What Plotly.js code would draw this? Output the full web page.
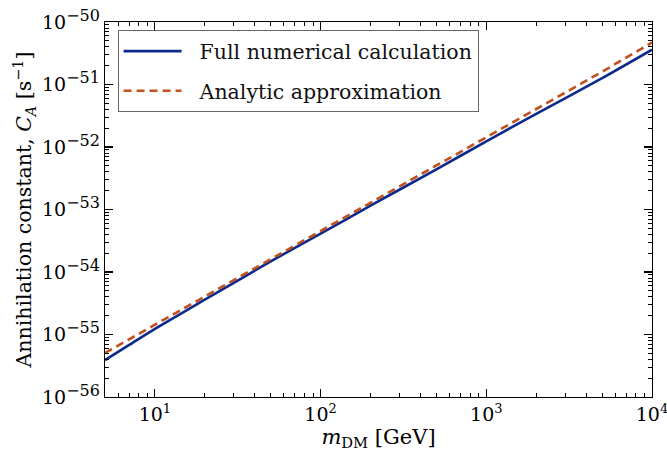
<!DOCTYPE html>
<html>
<head>
<meta charset="utf-8">
<script src="https://cdn.plot.ly/plotly-3.0.1.min.js"></script>
<style>
  html, body { margin: 0; padding: 0; background: #fff; }
  #chart { width: 667px; height: 455px; }
</style>
</head>
<body>
<div id="chart"></div>
<script>
// Dark-matter mass grid [GeV]
const massGeV = [5, 7, 10, 20, 50, 100, 200, 500, 1000, 2000, 5000, 10000];

// Annihilation constant C_A [s^-1]
const fullNumerical = [3.9e-56, 6.8e-56, 1.23e-55, 3.6e-55, 1.48e-54, 4.1e-54,
                       1.15e-53, 4.4e-53, 1.23e-52, 3.4e-52, 1.26e-51, 3.6e-51];
const analyticApprox = [5.06e-56, 8.4e-56, 1.43e-55, 4.04e-55, 1.6e-54, 4.52e-54,
                        1.28e-53, 5.06e-53, 1.43e-52, 4.04e-52, 1.6e-51, 4.7e-51];

const seriesNames = ['Full numerical calculation', 'Analytic approximation'];

// Axis tick labels (decade exponents)
const xTickVals = [10, 100, 1000, 10000];
const xTickExp = ['1', '2', '3', '4'];
const yTickVals = [1e-56, 1e-55, 1e-54, 1e-53, 1e-52, 1e-51, 1e-50];
const yTickExp = ['\u221256', '\u221255', '\u221254', '\u221253', '\u221252', '\u221251', '\u221250'];

const powerLabel = px => e => '10<sup><span style="font-size:' + px + 'px">' + e + '</span></sup>';

// Minor ticks at 2..9 within each decade
function minorTicks(expLo, expHi) {
  const v = [];
  for (let e = expLo; e <= expHi; e++) {
    for (let k = 2; k <= 9; k++) v.push(k * Math.pow(10, e));
  }
  return v;
}

const serif = "DejaVu Serif";
const pad = '\u00a0\u00a0';

const traces = [
  {
    x: massGeV, y: fullNumerical, name: pad + seriesNames[0], legendgroup: 'a',
    type: 'scatter', mode: 'lines',
    line: { color: '#0b2a8c', width: 2.6, shape: 'spline', smoothing: 0.6 }
  },
  {
    x: massGeV, y: analyticApprox, name: pad + seriesNames[1], legendgroup: 'b',
    type: 'scatter', mode: 'lines',
    line: { color: '#c2501e', width: 2.6, dash: '8px,5px' }
  }
];

const axisCommon = {
  type: 'log',
  showline: true, linecolor: '#000', linewidth: 1.3,
  mirror: 'allticks',
  ticks: 'inside', ticklen: 8, tickwidth: 1.1, tickcolor: '#000',
  showgrid: false, zeroline: false,
  tickmode: 'array',
  ticklabeloverflow: 'allow',
  tickfont: { family: serif, size: 19, color: '#000' }
};

const layout = {
  width: 667, height: 455,
  margin: { l: 105, r: 15, t: 22, b: 58 },
  paper_bgcolor: '#fff', plot_bgcolor: '#fff',
  showlegend: true,
  legend: {
    x: 0.023, y: 0.978, xanchor: 'left', yanchor: 'top',
    bgcolor: '#fff', bordercolor: '#666', borderwidth: 1,
    font: { family: serif, size: 20.5, color: '#111' },
    itemwidth: 58,
    tracegroupgap: 10
  },
  xaxis: Object.assign({}, axisCommon, {
    range: [Math.log10(5), 4],
    tickvals: xTickVals, ticktext: xTickExp.map(powerLabel(13)),
    minor: { tickmode: 'array', tickvals: minorTicks(0, 3), ticks: 'inside', ticklen: 4, tickcolor: '#000', tickwidth: 1 },
    title: { text: '<i>m</i><sub>DM</sub> [GeV]', font: { family: serif, size: 21, color: '#000' }, standoff: 4 }
  }),
  yaxis: Object.assign({}, axisCommon, {
    range: [-56, -50],
    tickvals: yTickVals, ticktext: yTickExp.map(powerLabel(16)),
    minor: { tickmode: 'array', tickvals: minorTicks(-56, -51), ticks: 'inside', ticklen: 4, tickcolor: '#000', tickwidth: 1 },
    title: { text: 'Annihilation constant, <i>C</i><sub><i>A</i></sub> [s<sup>\u22121</sup>]', font: { family: serif, size: 20.5, color: '#000' }, standoff: 4 }
  })
};

Plotly.newPlot('chart', traces, layout, { displayModeBar: false, staticPlot: true });
</script>
</body>
</html>
